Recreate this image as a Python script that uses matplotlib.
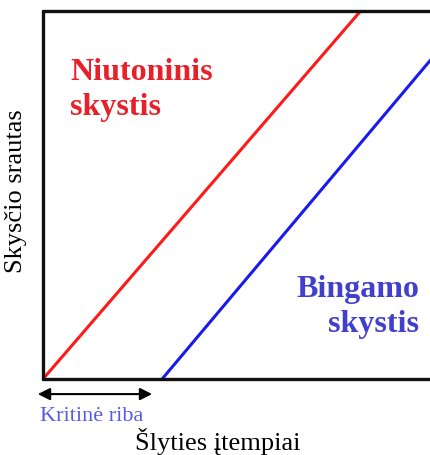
# Newtonian vs Bingham fluid sketch
import matplotlib.pyplot as plt

# line data (shear stress vs flow)
newton_x = [0, 8]
newton_y = [0, 10]
bingham_x = [3, 10.8]
bingham_y = [0, 10]
yield_span = [-0.13, 2.75]   # "Kritinė riba" arrow

plt.rcParams['font.family'] = ['Liberation Serif', 'DejaVu Serif']

fig = plt.figure(figsize=(4.31, 4.56), dpi=100)
W, H = 431, 456
ax = fig.add_axes([43 / W, (H - 380) / H, 397 / W, 368 / H])

ax.plot(newton_x, newton_y, color='#ff1a1a', lw=2.2, solid_capstyle='butt')
ax.plot(bingham_x, bingham_y, color='#1a1aee', lw=2.2, solid_capstyle='butt')
ax.set_xlim(0, 10)
ax.set_ylim(0, 10)
ax.set_xticks([])
ax.set_yticks([])
for side in ['left', 'bottom', 'top', 'right']:
    ax.spines[side].set_linewidth(2.4)
    ax.spines[side].set_color('#111111')
    ax.spines[side].set_capstyle('round')
    ax.spines[side].set_joinstyle('round')

# critical stress arrow
ax.annotate('', xy=(yield_span[0], -0.41), xytext=(yield_span[1], -0.41),
            xycoords='data', annotation_clip=False,
            arrowprops=dict(arrowstyle='<|-|>', color='black', lw=1.5,
                            mutation_scale=18, shrinkA=0, shrinkB=0))

# labels
fig.text(70 / W, 1 - 80 / H, 'Niutoninis', color='#e8202a', fontsize=23,
         fontweight='bold', ha='left', va='baseline')
fig.text(70 / W, 1 - 115 / H, 'skystis', color='#e8202a', fontsize=23,
         fontweight='bold', ha='left', va='baseline')
fig.text(419 / W, 1 - 297 / H, 'Bingamo', color='#4040cc', fontsize=23,
         fontweight='bold', ha='right', va='baseline')
fig.text(419 / W, 1 - 332 / H, 'skystis', color='#4040cc', fontsize=23,
         fontweight='bold', ha='right', va='baseline')
fig.text(92 / W, 1 - 421 / H, 'Kritinė riba', color='#5a5ae0', fontsize=16,
         ha='center', va='baseline')
fig.text(218 / W, 1 - 450 / H, 'Šlyties įtempiai', color='black', fontsize=19,
         ha='center', va='baseline')
fig.text(16 / W, 1 - 191 / H, 'Skysčio srautas', color='black', fontsize=19,
         ha='center', va='center', rotation=90)

fig.savefig('out.png', dpi=100)
